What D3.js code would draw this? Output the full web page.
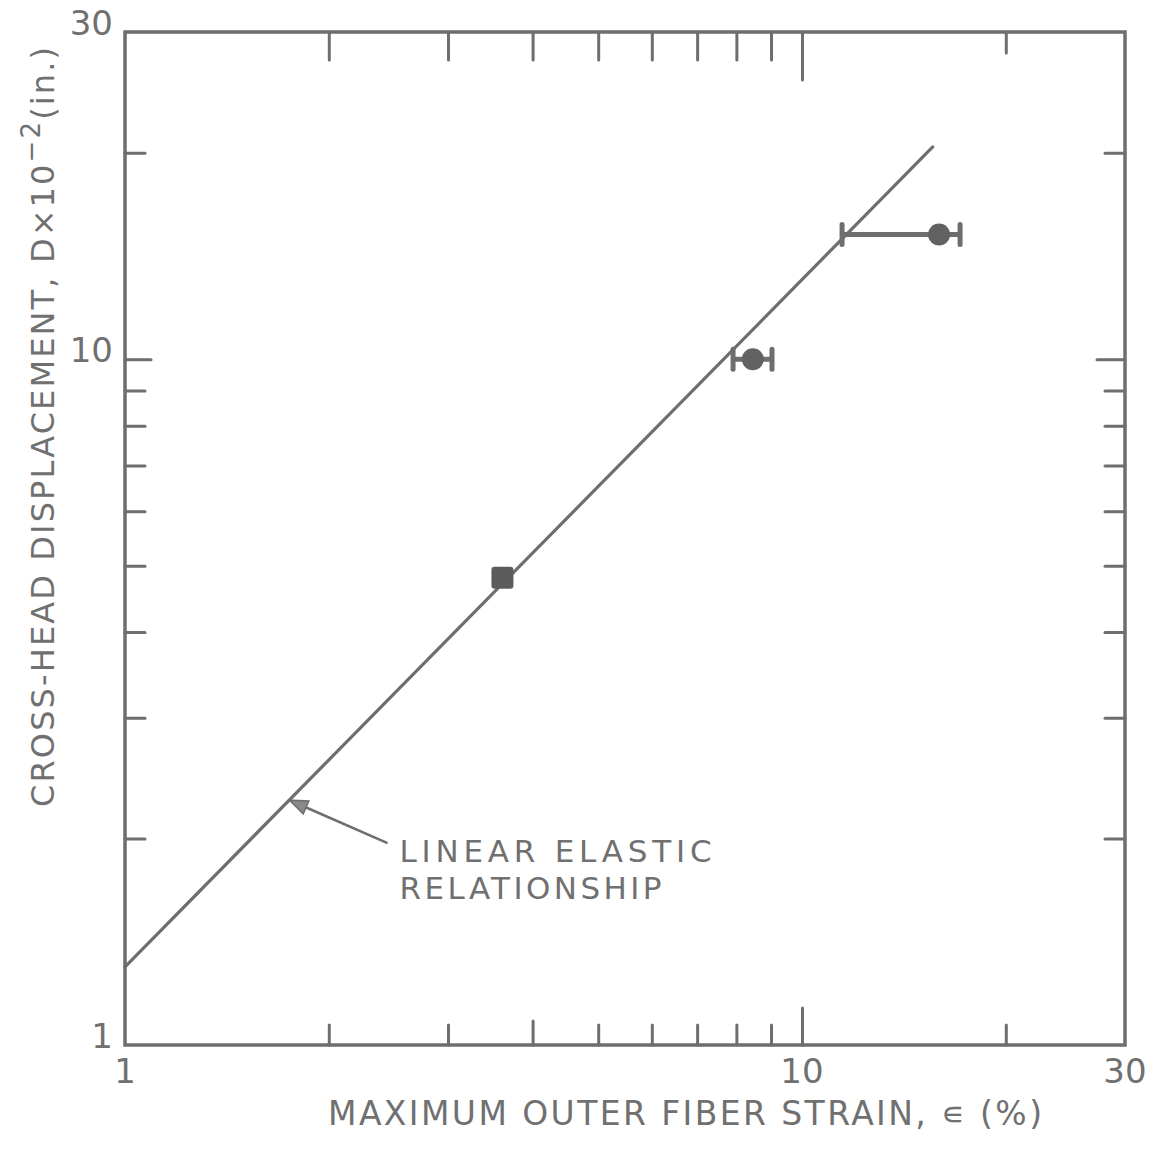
<!DOCTYPE html>
<html>
<head>
<meta charset="utf-8">
<script src="https://cdn.jsdelivr.net/npm/d3@7"></script>
<style>
  html, body { margin: 0; padding: 0; background: #fff; }
  svg { display: block; }
  text { font-family: "DejaVu Sans", sans-serif; fill: #707070; }
</style>
</head>
<body>
<svg id="chart" width="1155" height="1150"></svg>
<script>
// Measured specimens: strain (%) vs cross-head displacement (x10^-2 in.)
const strain       = [3.61, 8.46, 15.94];
const displacement = [4.8, 10.0, 15.2];
const strainLow    = [null, 7.91, 11.46];
const strainHigh   = [null, 9.03, 17.12];
const markerShape  = ["square", "circle", "circle"];

// Linear elastic reference line (end points)
const elasticStrain = [1, 15.6];
const elasticDisp   = [1.3, 20.4];

// Where the annotation arrow touches the line
const arrowStrain = 1.75;

// Axis ticks and labels
const xTickValues = [2, 3, 4, 5, 6, 7, 8, 9, 10, 20];
const yTickValues = [2, 3, 4, 5, 6, 7, 8, 9, 10, 20];
const xTickLabels = [1, 10, 30];
const yTickLabels = [1, 10, 30];

const ink = "#6e6e6e";
const svg = d3.select("#chart");

const x = d3.scaleLog().domain([1, 30]).range([125, 1125]);
const y = d3.scaleLog().domain([1, 30]).range([1045, 32]);

// Tick marks drawn with d3 axes, pointing into the plot
function styleAxis(g) {
  g.select(".domain").remove();
  g.selectAll(".tick text").remove();
  g.selectAll(".tick line")
    .attr("stroke", ink).attr("stroke-width", 3).attr("stroke-linecap", "round");
}
const axisB = svg.append("g").attr("transform", `translate(0,${y(1)})`)
  .call(d3.axisBottom(x).tickValues(xTickValues).tickSize(-20)).call(styleAxis);
axisB.selectAll(".tick line").filter(d => d === 10).attr("y2", -37);
axisB.selectAll(".tick line").filter(d => d === 4).attr("y2", -24);

const axisT = svg.append("g").attr("transform", `translate(0,${y(30)})`)
  .call(d3.axisTop(x).tickValues(xTickValues).tickSize(-28)).call(styleAxis);
axisT.selectAll(".tick line").filter(d => d === 10).attr("y2", 48);
axisT.selectAll(".tick line").filter(d => d === 20).attr("y2", 21);

const axisL = svg.append("g").attr("transform", `translate(${x(1)},0)`)
  .call(d3.axisLeft(y).tickValues(yTickValues).tickSize(-20)).call(styleAxis);
axisL.selectAll(".tick line").filter(d => d === 10).attr("x2", 26);

const axisR = svg.append("g").attr("transform", `translate(${x(30)},0)`)
  .call(d3.axisRight(y).tickValues(yTickValues).tickSize(-20)).call(styleAxis);
axisR.selectAll(".tick line").filter(d => d === 10).attr("x2", -28);

// Plot frame
svg.append("rect")
  .attr("x", x(1)).attr("y", y(30))
  .attr("width", x(30) - x(1)).attr("height", y(1) - y(30))
  .attr("fill", "none").attr("stroke", ink).attr("stroke-width", 3.5);

// Tick labels
svg.append("g").selectAll("text").data(xTickLabels).join("text")
  .attr("x", d => x(d)).attr("y", y(1) + 38)
  .attr("text-anchor", "middle").attr("font-size", 34)
  .text(d => d);
svg.append("g").selectAll("text").data(yTickLabels).join("text")
  .attr("x", x(1) - 12).attr("y", d => y(d) + 3)
  .attr("text-anchor", "end").attr("font-size", 34)
  .text(d => d);

// Axis titles
svg.append("text")
  .attr("x", 685).attr("y", 1125)
  .attr("text-anchor", "middle").attr("font-size", 33)
  .attr("textLength", 714).attr("lengthAdjust", "spacing")
  .text("MAXIMUM OUTER FIBER STRAIN, \u220A (%)");

const yTitle = svg.append("text")
  .attr("transform", "translate(54,427) rotate(-90)")
  .attr("text-anchor", "middle").attr("font-size", 32)
  .attr("textLength", 760).attr("lengthAdjust", "spacing");
yTitle.append("tspan").text("CROSS-HEAD DISPLACEMENT, D\u00D710");
yTitle.append("tspan").attr("dy", -14).attr("font-size", 26).text("\u22122");
yTitle.append("tspan").attr("dy", 14).text("(in.)");

// Linear elastic relationship
const line = d3.line().x(d => x(d[0])).y(d => y(d[1]));
svg.append("path")
  .datum(d3.zip(elasticStrain, elasticDisp))
  .attr("d", line)
  .attr("fill", "none").attr("stroke", ink).attr("stroke-width", 3.2)
  .attr("stroke-linecap", "round");

// Error bars
const bars = svg.append("g");
strain.forEach((s, i) => {
  if (strainLow[i] == null) return;
  const yy = y(displacement[i]);
  bars.append("line")
    .attr("x1", x(strainLow[i])).attr("x2", x(strainHigh[i]))
    .attr("y1", yy).attr("y2", yy)
    .attr("stroke", ink).attr("stroke-width", 5);
  [strainLow[i], strainHigh[i]].forEach(v => {
    bars.append("line")
      .attr("x1", x(v)).attr("x2", x(v))
      .attr("y1", yy - 10).attr("y2", yy + 10)
      .attr("stroke", ink).attr("stroke-width", 5).attr("stroke-linecap", "round");
  });
});

// Data markers
const pts = svg.append("g");
strain.forEach((s, i) => {
  if (markerShape[i] === "square") {
    pts.append("rect")
      .attr("x", x(s) - 11).attr("y", y(displacement[i]) - 11)
      .attr("width", 22).attr("height", 22).attr("rx", 3)
      .attr("fill", "#5c5c5c");
  } else {
    pts.append("circle")
      .attr("cx", x(s)).attr("cy", y(displacement[i])).attr("r", 11)
      .attr("fill", "#626262");
  }
});

// Annotation arrow and label
const tipX = x(arrowStrain);
const tipY = y(elasticDisp[0] * arrowStrain);
const tailX = tipX + 98, tailY = tipY + 43;
const ang = Math.atan2(tailY - tipY, tailX - tipX);
svg.append("line")
  .attr("x1", tailX).attr("y1", tailY)
  .attr("x2", tipX + 12 * Math.cos(ang)).attr("y2", tipY + 12 * Math.sin(ang))
  .attr("stroke", ink).attr("stroke-width", 2.5);
const ah = 18, aw = 7;
const bx = tipX + ah * Math.cos(ang), by = tipY + ah * Math.sin(ang);
svg.append("path")
  .attr("d", `M${tipX},${tipY} L${bx - aw * Math.sin(ang)},${by + aw * Math.cos(ang)} L${bx + aw * Math.sin(ang)},${by - aw * Math.cos(ang)} Z`)
  .attr("fill", "#8a8a8a").attr("stroke", ink).attr("stroke-width", 1.5);

svg.append("text")
  .attr("x", tailX + 12).attr("y", tailY + 19)
  .attr("font-size", 31).attr("textLength", 312).attr("lengthAdjust", "spacing")
  .text("LINEAR ELASTIC");
svg.append("text")
  .attr("x", tailX + 12).attr("y", tailY + 56)
  .attr("font-size", 31).attr("textLength", 262).attr("lengthAdjust", "spacing")
  .text("RELATIONSHIP");
</script>
</body>
</html>
